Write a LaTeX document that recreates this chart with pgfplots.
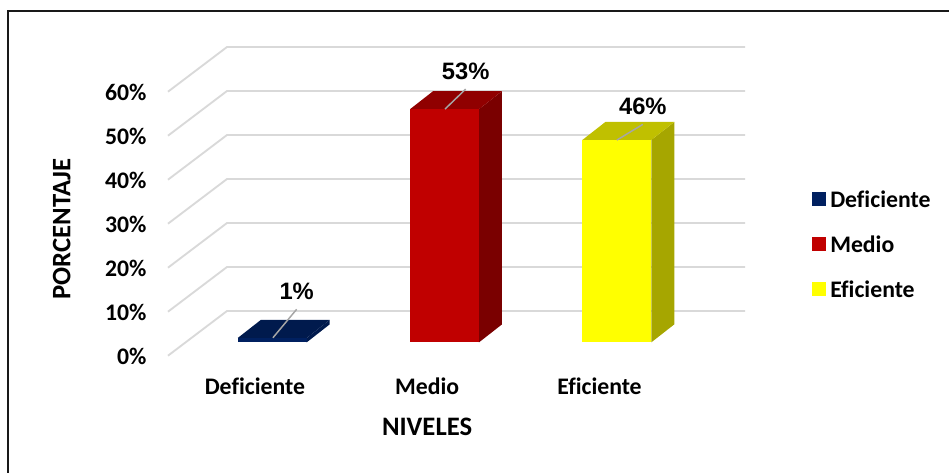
\documentclass[border=0pt]{standalone}
\usepackage{fontspec}
\setmainfont{Carlito}[Ligatures=NoCommon]
\newfontfamily\labelfont{Liberation Sans}
\usepackage{pgfplots}
\pgfplotsset{compat=1.18}

\definecolor{cblue}{HTML}{002060}
\definecolor{cbluetop}{HTML}{001A4D}
\definecolor{cred}{HTML}{C00000}
\definecolor{credtop}{HTML}{900000}
\definecolor{credside}{HTML}{7A0000}
\definecolor{cyel}{HTML}{FFFF00}
\definecolor{cyeltop}{HTML}{C0C000}
\definecolor{cyelside}{HTML}{A6A600}
\definecolor{cgrid}{HTML}{D9D9D9}

\newcommand{\chartfont}{\fontsize{17.8}{20}\selectfont\bfseries}
\newcommand{\titlefont}{\fontsize{20}{22}\selectfont\bfseries}

% 1 px of the reference = 0.75pt
\pgfplotsset{
    face/.style={forget plot, draw=none, fill=#1, yshift=9.98pt},
    lead/.style={forget plot, draw=black!35, line width=1.1pt, no marks},
}
\tikzset{
    vlabel/.style={pos=1, above, font=\chartfont\labelfont, inner sep=0pt, yshift=6.5pt},
}

\begin{document}
\begin{tikzpicture}
    \useasboundingbox (0,0) rectangle (711.75pt,354.75pt);
    \draw[line width=1.1pt, black!90] (6pt,0pt) -- (6pt,346.5pt) -- (711.75pt,346.5pt);
    \begin{axis}[
        at={(126pt,87.98pt)},
        anchor=south west,
        scale only axis,
        width=432.75pt,
        height=198pt,
        clip=false,
        xmin=-0.6048, xmax=2.744,
        ymin=0, ymax=60,
        axis line style={draw=none},
        major tick length=0pt,
        tick style={draw=none},
        xtick={0,1,2},
        xticklabels={Deficiente,Medio,Eficiente},
        ytick={0,10,20,30,40,50,60},
        yticklabels={0\%,10\%,20\%,30\%,40\%,50\%,60\%},
        x tick label style={font=\chartfont, anchor=center, xshift=-13pt, yshift=-23.25pt},
        y tick label style={font=\chartfont, anchor=east, inner sep=0pt, xshift=-16pt, yshift=-0.5pt},
        xlabel={NIVELES},
        ylabel={PORCENTAJE},
        xlabel style={font=\titlefont, at={(axis description cs:0.449,-0.268)}, anchor=center},
        ylabel style={font=\titlefont, at={(axis description cs:-0.184,0.48)}, anchor=center},
        legend cell align=left,
        legend style={
            at={(1.0,0.5)},
            anchor=west,
            draw=none,
            fill=none,
            inner sep=0pt,
            xshift=50.25pt,
            yshift=-16.25pt,
            row sep=15.6pt,
            font=\chartfont,
            nodes={inner xsep=3pt},
        },
        legend image code/.code={
            \fill[#1] (0pt,-14.2pt) rectangle (10.5pt,-3.7pt);
        },
        ]
    % floor and walls
    \addplot[forget plot, color=cgrid, line width=1.4pt, unbounded coords=jump] coordinates {
        (-0.6048,0)  (-0.2623,10.16) (2.744,10.16) (nan,nan)
        (-0.6048,10) (-0.2623,20.16) (2.744,20.16) (nan,nan)
        (-0.6048,20) (-0.2623,30.16) (2.744,30.16) (nan,nan)
        (-0.6048,30) (-0.2623,40.16) (2.744,40.16) (nan,nan)
        (-0.6048,40) (-0.2623,50.16) (2.744,50.16) (nan,nan)
        (-0.6048,50) (-0.2623,60.16) (2.744,60.16) (nan,nan)
        (-0.6048,60) (-0.2623,70.16) (2.744,70.16)
    };
    % right and top faces
    \addplot[face=cbluetop] coordinates {(0.2,0) (0.3335,4.09) (0.3335,5.09) (0.2,1)} -- cycle;
    \addplot[face=cbluetop] coordinates {(-0.2,1) (0.2,1) (0.3335,5.09) (-0.0665,5.09)} -- cycle;
    \addplot[face=credside] coordinates {(1.2,0) (1.3335,4.09) (1.3335,57.09) (1.2,53)} -- cycle;
    \addplot[face=credtop] coordinates {(0.8,53) (1.2,53) (1.3335,57.09) (0.9335,57.09)} -- cycle;
    \addplot[face=cyelside] coordinates {(2.2,0) (2.3335,4.09) (2.3335,50.09) (2.2,46)} -- cycle;
    \addplot[face=cyeltop] coordinates {(1.8,46) (2.2,46) (2.3335,50.09) (1.9335,50.09)} -- cycle;
    % front faces
    \addplot[draw=none, fill=cblue, yshift=9.98pt] coordinates {(-0.2,0) (0.2,0) (0.2,1) (-0.2,1)} -- cycle;
    \addlegendentry{Deficiente}
    \addplot[draw=none, fill=cred, yshift=9.98pt] coordinates {(0.8,0) (1.2,0) (1.2,53) (0.8,53)} -- cycle;
    \addlegendentry{Medio}
    \addplot[draw=none, fill=cyel, yshift=9.98pt] coordinates {(1.8,0) (2.2,0) (2.2,46) (1.8,46)} -- cycle;
    \addlegendentry{Eficiente}
    % leader lines with value labels
    \addplot[lead] coordinates {(0.004,4.07) (0.142,10.55)} node[vlabel] {1\%};
    \addplot[lead] coordinates {(1.003,56.05) (1.123,60.6)} node[vlabel] {53\%};
    \addplot[lead] coordinates {(2.0,49) (2.151,52.57)} node[vlabel] {46\%};
    \end{axis}
\end{tikzpicture}
\end{document}
